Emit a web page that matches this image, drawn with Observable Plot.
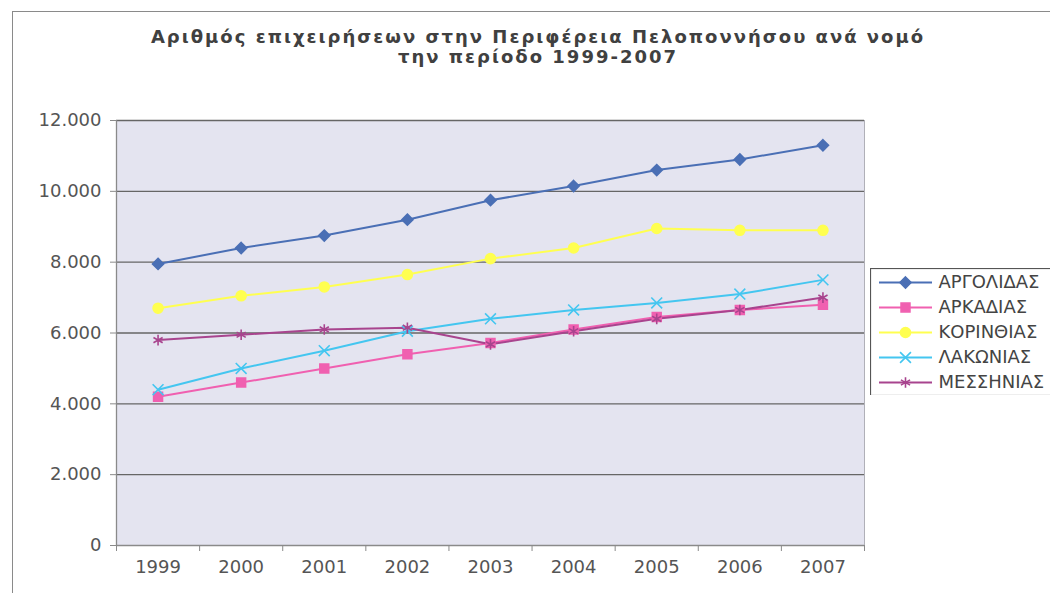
<!DOCTYPE html>
<html><head><meta charset="utf-8">
<script src="https://cdn.jsdelivr.net/npm/d3@7"></script>
<script src="https://cdn.jsdelivr.net/npm/@observablehq/plot@0.6"></script>
<style>
html,body{margin:0;padding:0;background:#fff;overflow:hidden;width:1050px;height:593px}
#wrap{position:relative;width:1050px;height:593px;overflow:hidden;font-family:"DejaVu Sans",Verdana,sans-serif}
#border{position:absolute;left:12px;top:11px;width:2000px;height:2000px;border-left:1.5px solid #8a8a8a;border-top:1.5px solid #8a8a8a}
#title{position:absolute;left:11px;width:1054px;top:27px;text-align:center;font-weight:bold;font-size:18px;line-height:20px;color:#404040;letter-spacing:2px}
#chart{position:absolute;left:0;top:0}
#legend{position:absolute;left:870px;top:268px;width:220px}
svg{max-width:none !important}
</style></head>
<body><div id="wrap"><div id="border"></div>
<div id="title">Αριθμός επιχειρήσεων στην Περιφέρεια Πελοποννήσου ανά νομό<br>την περίοδο 1999-2007</div>
<div id="chart"></div><div id="legend"></div></div>
<script>
const years = [1999, 2000, 2001, 2002, 2003, 2004, 2005, 2006, 2007];
const seriesNames = ["ΑΡΓΟΛΙΔΑΣ", "ΑΡΚΑΔΙΑΣ", "ΚΟΡΙΝΘΙΑΣ", "ΛΑΚΩΝΙΑΣ", "ΜΕΣΣΗΝΙΑΣ"];
const argolida  = [7950, 8400, 8750, 9200, 9750, 10150, 10600, 10900, 11300];
const arkadia   = [4200, 4600, 5000, 5400, 5720, 6100, 6450, 6650, 6800];
const korinthia = [6700, 7050, 7300, 7650, 8100, 8400, 8950, 8900, 8900];
const lakonia   = [4400, 5000, 5500, 6050, 6400, 6650, 6850, 7100, 7500];
const messinia  = [5800, 5950, 6100, 6150, 5680, 6050, 6400, 6650, 7000];
const yTicks = [0, 2000, 4000, 6000, 8000, 10000, 12000];
const seriesColors = ["#4a6fb5", "#f060b0", "#ffff50", "#44c6f0", "#a8448e"];
const seriesSymbols = ["diamond2", "square", "circle", "times", "asterisk"];

const valuesBySeries = [argolida, arkadia, korinthia, lakonia, messinia];
const data = [];
seriesNames.forEach((s, i) => years.forEach((yr, j) => data.push({series: s, year: yr, value: valuesBySeries[i][j]})));

const fmt = d => d3.format(",")(d).replace(/,/g, ".");
const bounds = years.map(y => y - 0.5).concat([years[years.length - 1] + 0.5]);

const chart = Plot.plot({
  width: 1050, height: 593,
  marginLeft: 116, marginRight: 186, marginTop: 120, marginBottom: 48,
  style: {fontFamily: "DejaVu Sans, Verdana, sans-serif", fontSize: "18px", background: "transparent"},
  x: {domain: [bounds[0], bounds[bounds.length - 1]], axis: null},
  y: {domain: [0, 12000], axis: null},
  color: {domain: seriesNames, range: seriesColors},
  symbol: {domain: seriesNames, range: seriesSymbols},
  marks: [
    Plot.frame({fill: "#e4e4f0", stroke: "#b0b0b8"}),
    Plot.ruleY(yTicks.filter(v => v > 0), {stroke: "#666", strokeWidth: 1.3}),
    Plot.ruleY([0], {stroke: "#8a8a8a", strokeWidth: 1.3}),
    Plot.ruleX([bounds[0]], {stroke: "#8a8a8a", strokeWidth: 1.3}),
    Plot.axisY(yTicks, {label: null, tickSize: 6, tickPadding: 9, tickFormat: fmt, fill: "#555", stroke: "#8a8a8a", fontSize: 18}),
    Plot.axisX(bounds, {label: null, tickSize: 6, tickFormat: () => "", stroke: "#8a8a8a"}),
    Plot.axisX(years, {label: null, tickSize: 0, tickPadding: 15, tickFormat: d => String(d), fill: "#555", fontSize: 18}),
    Plot.line(data, {x: "year", y: "value", z: "series", stroke: "series", strokeWidth: 2}),
    Plot.dot(data, {x: "year", y: "value", symbol: "series", fill: "series", stroke: "series", strokeWidth: 1.6, r: 5})
  ]
});
document.getElementById("chart").appendChild(chart);

const legend = Plot.plot({
  width: 220, height: 127,
  margin: 0,
  style: {fontFamily: "DejaVu Sans, Verdana, sans-serif", fontSize: "18px", background: "#fff"},
  x: {domain: [0, 220], range: [0, 220], axis: null},
  y: {type: "point", domain: seriesNames, axis: null, padding: 0.5},
  color: {domain: seriesNames, range: seriesColors},
  symbol: {domain: seriesNames, range: seriesSymbols},
  marks: [
    Plot.frame({stroke: "#555", strokeWidth: 1.2}),
    Plot.ruleY(seriesNames, {y: d => d, x1: 9, x2: 62, stroke: d => d, strokeWidth: 2}),
    Plot.dot(seriesNames, {y: d => d, x: 35, symbol: d => d, fill: d => d, stroke: d => d, strokeWidth: 1.6, r: 5}),
    Plot.text(seriesNames, {y: d => d, x: 68, text: d => d, textAnchor: "start", fill: "#444", fontSize: 18})
  ]
});
document.getElementById("legend").appendChild(legend);
</script></body></html>
